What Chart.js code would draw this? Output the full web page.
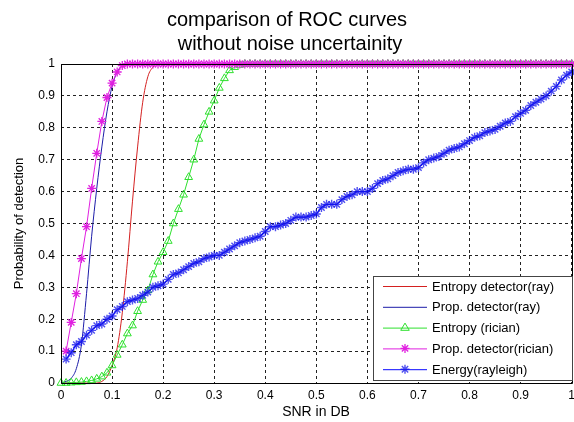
<!DOCTYPE html>
<html>
<head>
<meta charset="utf-8">
<script src="https://cdn.jsdelivr.net/npm/chart.js@4/dist/chart.umd.min.js"></script>
<style>
html,body{margin:0;padding:0;background:#fff;overflow:hidden;width:574px;height:422px;}
canvas{display:block;}
</style>
</head>
<body>
<canvas id="c" width="580" height="422" style="width:580px;height:422px"></canvas>
<script>
const titleLines = ['comparison of ROC curves', 'without noise uncertainity'];
const xTitle = 'SNR in DB';
const yTitle = 'Probability of detection';
const xTickLabels = ['0','0.1','0.2','0.3','0.4','0.5','0.6','0.7','0.8','0.9','1'];
const yTickLabels = ['0','0.1','0.2','0.3','0.4','0.5','0.6','0.7','0.8','0.9','1'];
const seriesNames = ['Entropy detector(ray)','Prop. detector(ray)','Entropy (rician)','Prop. detector(rician)','Energy(rayleigh)'];

const snr = [0,0.01,0.02,0.03,0.04,0.05,0.06,0.07,0.08,0.09,
 0.10,0.11,0.12,0.13,0.14,0.15,0.16,0.17,0.18,0.19,
 0.20,0.21,0.22,0.23,0.24,0.25,0.26,0.27,0.28,0.29,
 0.30,0.31,0.32,0.33,0.34,0.35,0.36,0.37,0.38,0.39,
 0.40,0.41,0.42,0.43,0.44,0.45,0.46,0.47,0.48,0.49,
 0.50,0.51,0.52,0.53,0.54,0.55,0.56,0.57,0.58,0.59,
 0.60,0.61,0.62,0.63,0.64,0.65,0.66,0.67,0.68,0.69,
 0.70,0.71,0.72,0.73,0.74,0.75,0.76,0.77,0.78,0.79,
 0.80,0.81,0.82,0.83,0.84,0.85,0.86,0.87,0.88,0.89,
 0.90,0.91,0.92,0.93,0.94,0.95,0.96,0.97,0.98,0.99,1.00];

// values at snr[0..100]
const entropyRay = [0,0,0,0,0,0,0,0,0.005,0.02,
 0.055,0.11,0.22,0.38,0.57,0.74,0.88,0.96,0.99,1,
 1,1,1,1,1,1,1,1,1,1, 1,1,1,1,1,1,1,1,1,1,
 1,1,1,1,1,1,1,1,1,1, 1,1,1,1,1,1,1,1,1,1,
 1,1,1,1,1,1,1,1,1,1, 1,1,1,1,1,1,1,1,1,1,
 1,1,1,1,1,1,1,1,1,1, 1,1,1,1,1,1,1,1,1,1,1];

const propRay = [0,0.005,0.015,0.045,0.12,0.28,0.46,0.61,0.74,0.85,
 0.93,0.975,0.995,1,1,1,1,1,1,1,
 1,1,1,1,1,1,1,1,1,1, 1,1,1,1,1,1,1,1,1,1,
 1,1,1,1,1,1,1,1,1,1, 1,1,1,1,1,1,1,1,1,1,
 1,1,1,1,1,1,1,1,1,1, 1,1,1,1,1,1,1,1,1,1,
 1,1,1,1,1,1,1,1,1,1, 1,1,1,1,1,1,1,1,1,1,1];

const entropyRician = [0,0,0.001,0.002,0.003,0.005,0.008,0.013,0.02,0.032,
 0.055,0.088,0.12,0.155,0.18,0.225,0.26,0.29,0.34,0.38,
 0.41,0.445,0.50,0.545,0.59,0.645,0.70,0.765,0.81,0.85,
 0.885,0.925,0.955,0.98,0.99,0.997,1,1,1,1,
 1,1,1,1,1,1,1,1,1,1, 1,1,1,1,1,1,1,1,1,1,
 1,1,1,1,1,1,1,1,1,1, 1,1,1,1,1,1,1,1,1,1,
 1,1,1,1,1,1,1,1,1,1, 1,1,1,1,1,1,1,1,1,1,1];

// values at snr[1..100]
const propRician = [0.10,0.19,0.28,0.39,0.49,0.61,0.72,0.82,0.895,0.94,
 0.975,0.995,1,1,1,1,1,1,1,1,
 1,1,1,1,1,1,1,1,1,1, 1,1,1,1,1,1,1,1,1,1,
 1,1,1,1,1,1,1,1,1,1, 1,1,1,1,1,1,1,1,1,1,
 1,1,1,1,1,1,1,1,1,1, 1,1,1,1,1,1,1,1,1,1,
 1,1,1,1,1,1,1,1,1,1, 1,1,1,1,1,1,1,1,1,1];

const energyRayleigh = [0.075,0.095,0.12,0.13,0.15,0.165,0.18,0.185,0.20,0.21,
 0.23,0.24,0.255,0.26,0.265,0.275,0.285,0.30,0.305,0.31,
 0.325,0.34,0.345,0.355,0.365,0.375,0.38,0.39,0.395,0.40,
 0.40,0.41,0.42,0.43,0.44,0.445,0.45,0.455,0.46,0.475,
 0.49,0.49,0.495,0.50,0.51,0.52,0.52,0.52,0.525,0.53,
 0.55,0.56,0.56,0.56,0.575,0.585,0.59,0.60,0.60,0.60,
 0.61,0.625,0.635,0.64,0.65,0.66,0.665,0.67,0.67,0.675,
 0.69,0.70,0.705,0.71,0.72,0.73,0.735,0.74,0.75,0.76,
 0.77,0.775,0.785,0.79,0.795,0.805,0.815,0.82,0.835,0.845,
 0.855,0.87,0.88,0.89,0.90,0.915,0.93,0.95,0.965,0.975];

function pts(xs, ys) { return ys.map((y, i) => ({x: xs[i], y: y})); }
const snr1 = snr.slice(1);

const FONT = '"Liberation Sans", Arial, sans-serif';

const datasets = [
  {label: seriesNames[0], data: pts(snr, entropyRay), borderColor: '#d42020', borderWidth: 1, pointRadius: 0, order: 5, cubicInterpolationMode: 'monotone', mk: 'none'},
  {label: seriesNames[1], data: pts(snr, propRay), borderColor: '#1c1ca8', borderWidth: 1, pointRadius: 0, order: 4, cubicInterpolationMode: 'monotone', mk: 'none'},
  {label: seriesNames[2], data: pts(snr, entropyRician), borderColor: '#2ee02e', borderWidth: 1, pointStyle: 'triangle', pointRadius: 4.5, pointBorderColor: '#2ee02e', pointBackgroundColor: 'rgba(0,0,0,0)', pointBorderWidth: 1, order: 3, mk: 'triangle'},
  {label: seriesNames[3], data: pts(snr1, propRician), borderColor: '#e020e0', borderWidth: 1, pointStyle: 'star', pointRadius: 4.5, pointBorderColor: '#e020e0', pointBorderWidth: 1.3, order: 2, mk: 'star'},
  {label: seriesNames[4], data: pts(snr1, energyRayleigh), borderColor: '#0a0aff', borderWidth: 1.2, pointStyle: 'star', pointRadius: 4.5, pointBorderColor: 'rgba(20,20,235,0.75)', pointBorderWidth: 1.4, order: 1, mk: 'star'}
];
datasets.forEach(d => { d.clip = 10; d.tension = 0; d.fill = false; });

function drawMarker(ctx, type, x, y, r, color, lw) {
  ctx.save();
  ctx.strokeStyle = color; ctx.lineWidth = lw;
  ctx.beginPath();
  if (type === 'triangle') {
    ctx.moveTo(x, y - r);
    ctx.lineTo(x - r * 0.95, y + r * 0.6);
    ctx.lineTo(x + r * 0.95, y + r * 0.6);
    ctx.closePath();
  } else if (type === 'star') {
    const d = r * 0.707;
    ctx.moveTo(x - r, y); ctx.lineTo(x + r, y);
    ctx.moveTo(x, y - r); ctx.lineTo(x, y + r);
    ctx.moveTo(x - d, y - d); ctx.lineTo(x + d, y + d);
    ctx.moveTo(x - d, y + d); ctx.lineTo(x + d, y - d);
  }
  ctx.stroke();
  ctx.restore();
}

const decor = {
  id: 'decor',
  afterDraw(chart) {
    const ctx = chart.ctx, a = chart.chartArea;
    ctx.save();
    // axes box
    ctx.strokeStyle = '#000'; ctx.lineWidth = 1;
    ctx.beginPath();
    ctx.moveTo(Math.round(a.left) + 0.5, Math.round(a.top) + 0.5);
    ctx.lineTo(Math.round(a.left) + 0.5, Math.round(a.bottom) + 0.5);
    ctx.lineTo(Math.round(a.right) + 0.5, Math.round(a.bottom) + 0.5);
    ctx.lineTo(Math.round(a.right) + 0.5, Math.round(a.top) + 0.5);
    ctx.closePath();
    ctx.stroke();
    // title
    const cx = (a.left + a.right) / 2;
    ctx.fillStyle = '#000';
    ctx.textAlign = 'center'; ctx.textBaseline = 'middle';
    ctx.font = '20px ' + FONT;
    ctx.fillText(titleLines[0], 287, 20);
    ctx.fillText(titleLines[1], 290, 44);
    // axis titles
    ctx.font = '14px ' + FONT;
    ctx.fillText(xTitle, 316, 412);
    ctx.font = '13px ' + FONT;
    ctx.save();
    ctx.translate(19, (a.top + a.bottom) / 2);
    ctx.rotate(-Math.PI / 2);
    ctx.fillText(yTitle, 0, 0);
    ctx.restore();
    // legend
    const lx = 373, ly = 276, lw = 199, lh = 104;
    ctx.fillStyle = '#fff';
    ctx.fillRect(lx, ly, lw, lh);
    ctx.strokeStyle = '#444'; ctx.lineWidth = 1;
    ctx.strokeRect(lx + 0.5, ly + 0.5, lw, lh);
    ctx.font = '13px ' + FONT;
    ctx.textAlign = 'left'; ctx.textBaseline = 'middle';
    chart.data.datasets.forEach((d, i) => {
      const y = ly + 10 + i * 20.8;
      ctx.strokeStyle = d.borderColor; ctx.lineWidth = 1;
      ctx.beginPath(); ctx.moveTo(383, y + 0.5); ctx.lineTo(427, y + 0.5); ctx.stroke();
      if (d.mk !== 'none') drawMarker(ctx, d.mk, 405, y, 4.5, d.pointBorderColor, d.pointBorderWidth);
      ctx.fillStyle = '#000';
      ctx.fillText(d.label, 432, y + 1);
    });
    ctx.restore();
  }
};

new Chart(document.getElementById('c'), {
  type: 'line',
  data: {datasets: datasets},
  plugins: [decor],
  options: {
    responsive: false,
    animation: false,
    devicePixelRatio: 1,
    layout: {padding: {top: 64, left: 0, right: 5, bottom: 0}},
    plugins: {legend: {display: false}, title: {display: false}, tooltip: {enabled: false}},
    scales: {
      x: {
        type: 'linear', min: 0, max: 1,
        afterFit(s) { s.height = 39; },
        ticks: {stepSize: 0.1, padding: 5, color: '#000', font: {size: 12, family: FONT}, maxRotation: 0, autoSkip: false,
          callback: (v, i) => xTickLabels[i]},
        grid: {color: '#222', lineWidth: 1, drawTicks: false},
        border: {display: false, dash: [3, 3]}
      },
      y: {
        type: 'linear', min: 0, max: 1,
        afterFit(s) { s.width = 61; },
        ticks: {stepSize: 0.1, padding: 6, color: '#000', font: {size: 12, family: FONT},
          callback: (v, i) => yTickLabels[i]},
        grid: {color: '#222', lineWidth: 1, drawTicks: false},
        border: {display: false, dash: [3, 3]}
      }
    }
  }
});
</script>
</body>
</html>
